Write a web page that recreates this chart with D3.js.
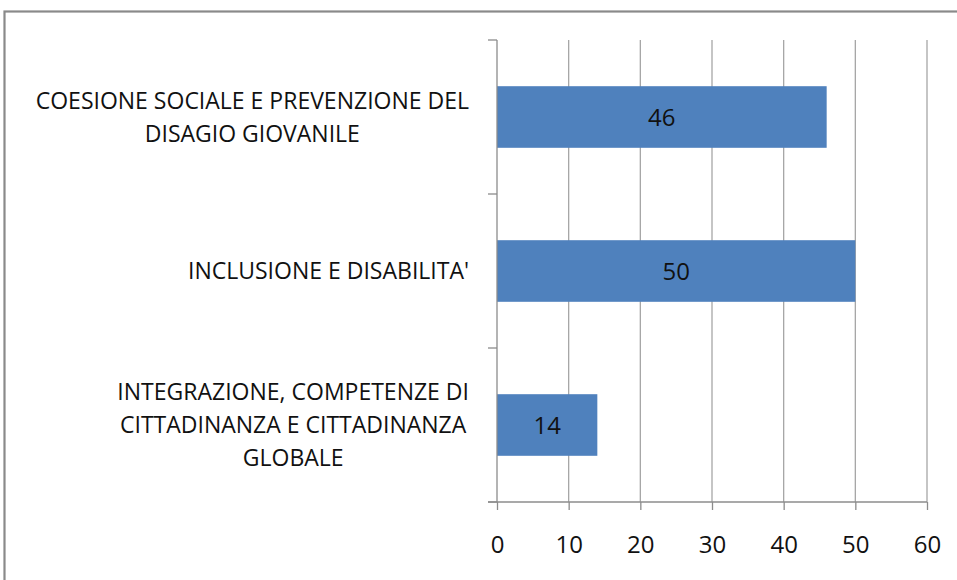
<!DOCTYPE html>
<html>
<style>
    body { margin: 0; background: #fff; }
    svg text { font-family: "Open Sans", sans-serif; fill: #111; }
    .grid line { stroke: #a6a6a6; stroke-width: 1.3px; }
    .axis path, .axis line { stroke: #8c8c8c; stroke-width: 1.3px; }
</style>
<script src="https://d3js.org/d3.v7.min.js"></script>
<body>
<svg width="957" height="580"></svg>
<script>
    // categories top to bottom, each label already split in its wrapped lines
    const categories = ["coesione", "inclusione", "integrazione"];
    const labelLines = [
        ["COESIONE SOCIALE E PREVENZIONE DEL", "DISAGIO GIOVANILE"],
        ["INCLUSIONE E DISABILITA'"],
        ["INTEGRAZIONE, COMPETENZE DI", "CITTADINANZA E CITTADINANZA", "GLOBALE"]
    ];
    const values = [46, 50, 14];
    const xTicks = [0, 10, 20, 30, 40, 50, 60];

    const svg = d3.select("svg");

    // outer frame of the chart area (runs off the right and bottom edge)
    svg.append("rect")
        .attr("x", 4.5).attr("y", 11.5)
        .attr("width", 1000).attr("height", 700)
        .attr("fill", "none")
        .attr("stroke", "#8a8a8a")
        .attr("stroke-width", 2.2);

    const x = d3.scaleLinear().domain([0, 60]).range([497, 927]);
    const y = d3.scaleBand().domain(categories).range([40, 502]).padding(0);
    const barH = y.bandwidth() / 2.5;

    // vertical gridlines
    svg.append("g").attr("class", "grid")
        .selectAll("line")
        .data(xTicks.filter(d => d > 0))
        .join("line")
        .attr("x1", d => x(d)).attr("x2", d => x(d))
        .attr("y1", 40).attr("y2", 502);

    // bars
    svg.append("g")
        .selectAll("rect")
        .data(values)
        .join("rect")
        .attr("x", x(0))
        .attr("y", (d, i) => y(categories[i]) + y.bandwidth() / 2 - barH / 2)
        .attr("width", d => x(d) - x(0))
        .attr("height", barH)
        .attr("fill", "#4f81bd");

    // value labels
    svg.append("g")
        .selectAll("text")
        .data(values)
        .join("text")
        .attr("x", d => x(0) + (x(d) - x(0)) / 2)
        .attr("y", (d, i) => y(categories[i]) + y.bandwidth() / 2 + 9)
        .attr("text-anchor", "middle")
        .style("font-size", "24px")
        .text(d => d);

    // bottom axis
    const xAxis = svg.append("g").attr("class", "axis")
        .attr("transform", "translate(0,502)")
        .call(d3.axisBottom(x).tickValues(xTicks).tickSize(8).tickSizeOuter(0));
    xAxis.select(".domain").attr("d", `M488,0H${x(60)}`);
    xAxis.selectAll("text")
        .attr("y", 51).attr("dy", null)
        .style("font-size", "24px")
        .style("font-family", "'Open Sans', sans-serif")
        .attr("fill", "#111");

    // left axis with ticks at band boundaries
    const yAxis = svg.append("g").attr("class", "axis");
    yAxis.append("line")
        .attr("x1", x(0)).attr("x2", x(0))
        .attr("y1", 40).attr("y2", 502);
    const bounds = categories.map(c => y(c)).concat([502]);
    yAxis.selectAll(".tk")
        .data(bounds)
        .join("line")
        .attr("class", "tk")
        .attr("x1", 488).attr("x2", x(0))
        .attr("y1", d => d).attr("y2", d => d);

    // category labels: wrapped lines centered, widest line ending near the ticks
    const lineH = 33;
    const labels = svg.append("g");
    categories.forEach((c, i) => {
        const g = labels.append("g");
        const lines = labelLines[i];
        const cy = y(c) + y.bandwidth() / 2;
        const t = g.selectAll("text")
            .data(lines)
            .join("text")
            .attr("text-anchor", "middle")
            .style("font-size", "23px")
            .attr("y", (d, j) => cy + (j - (lines.length - 1) / 2) * lineH + 8)
            .text(d => d);
        let w = 0;
        t.each(function () { w = Math.max(w, this.getComputedTextLength()); });
        t.attr("x", 469 - w / 2);
    });
</script>
</body>
</html>
